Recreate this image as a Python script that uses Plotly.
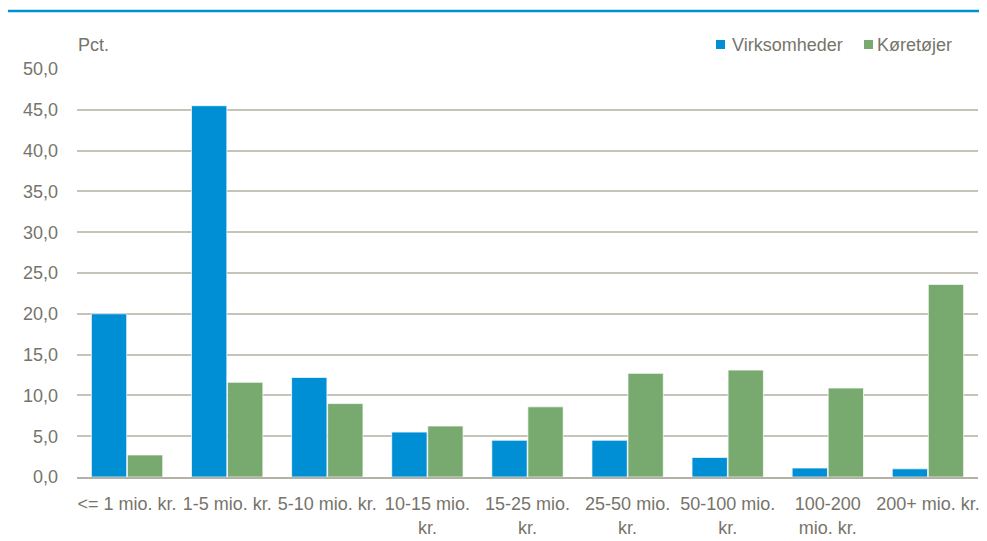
import plotly.graph_objects as go

categories = ["<= 1 mio. kr.", "1-5 mio. kr.", "5-10 mio. kr.", "10-15 mio.<br>kr.",
              "15-25 mio.<br>kr.", "25-50 mio.<br>kr.", "50-100 mio.<br>kr.",
              "100-200<br>mio. kr.", "200+ mio. kr."]
virksomheder = [20.0, 45.5, 12.2, 5.5, 4.5, 4.5, 2.4, 1.1, 1.0]
koeretoejer = [2.7, 11.6, 9.0, 6.25, 8.6, 12.7, 13.1, 10.9, 23.6]
series_names = ["Virksomheder", "Køretøjer"]
series_colors = ["#008FD5", "#78AA6F"]

FONT = "Liberation Sans, Arial, sans-serif"
FS = 18
TXT = "#76746A"
W, H = 987, 541
OFF = 8  # page body offset
# plot area in screen pixels
PX0, PX1, PY0, PY1 = 77, 978, 69, 477
ml = PX0 - OFF
mr = W - (PX1 - OFF)
mt = PY0 - OFF
mb = H - (PY1 - OFF)
pw = PX1 - PX0
ph = PY1 - PY0


def px_x(x):
    return (x - PX0) / pw


def px_y(y):
    return (PY1 - y) / ph


fig = go.Figure()
for name, vals, col in zip(series_names, [virksomheder, koeretoejer], series_colors):
    fig.add_bar(x=categories, y=vals, name=name,
                marker=dict(color=col, line=dict(color="rgba(255,255,255,0.7)", width=1)))

fig.update_layout(
    width=W, height=H,
    margin=dict(l=ml, r=mr, t=mt, b=mb),
    paper_bgcolor="white", plot_bgcolor="white",
    barmode="group", bargap=0.28, bargroupgap=0.02,
    separators=",.",
    font=dict(family=FONT, size=FS, color=TXT),
    showlegend=False,
)
fig.update_xaxes(showgrid=False, showline=True, linecolor="#B4B2A6", linewidth=1.5,
                 ticks="", ticklabelstandoff=10, tickfont=dict(size=FS, color=TXT),
                 automargin=False)
fig.update_yaxes(range=[0, 50], dtick=5, tickformat=".1f", showgrid=True,
                 gridcolor="#C6C4B8", gridwidth=1.5, zeroline=False,
                 ticks="", ticklabelstandoff=18, tickfont=dict(size=FS, color=TXT),
                 automargin=False)

fig.add_annotation(text="Pct.", xref="paper", yref="paper", x=px_x(76), xanchor="left",
                   y=px_y(45), yanchor="middle", showarrow=False,
                   font=dict(size=FS, color=TXT))

# legend drawn as annotations
for name, col, sx, tx in zip(series_names, series_colors, [716, 864], [730, 875]):
    fig.add_shape(type="rect", xref="paper", yref="paper",
                  x0=px_x(sx), x1=px_x(sx + 9), y0=px_y(49), y1=px_y(40),
                  fillcolor=col, line=dict(width=0))
    fig.add_annotation(text=name, xref="paper", yref="paper", x=px_x(tx), xanchor="left",
                       y=px_y(45), yanchor="middle", showarrow=False,
                       font=dict(size=FS, color=TXT))

# top blue rule
fig.add_shape(type="line", xref="paper", yref="paper",
              x0=px_x(0), x1=px_x(985), y0=px_y(11), y1=px_y(11),
              line=dict(color="#0090D6", width=2.5))

fig.write_html("out.html")
